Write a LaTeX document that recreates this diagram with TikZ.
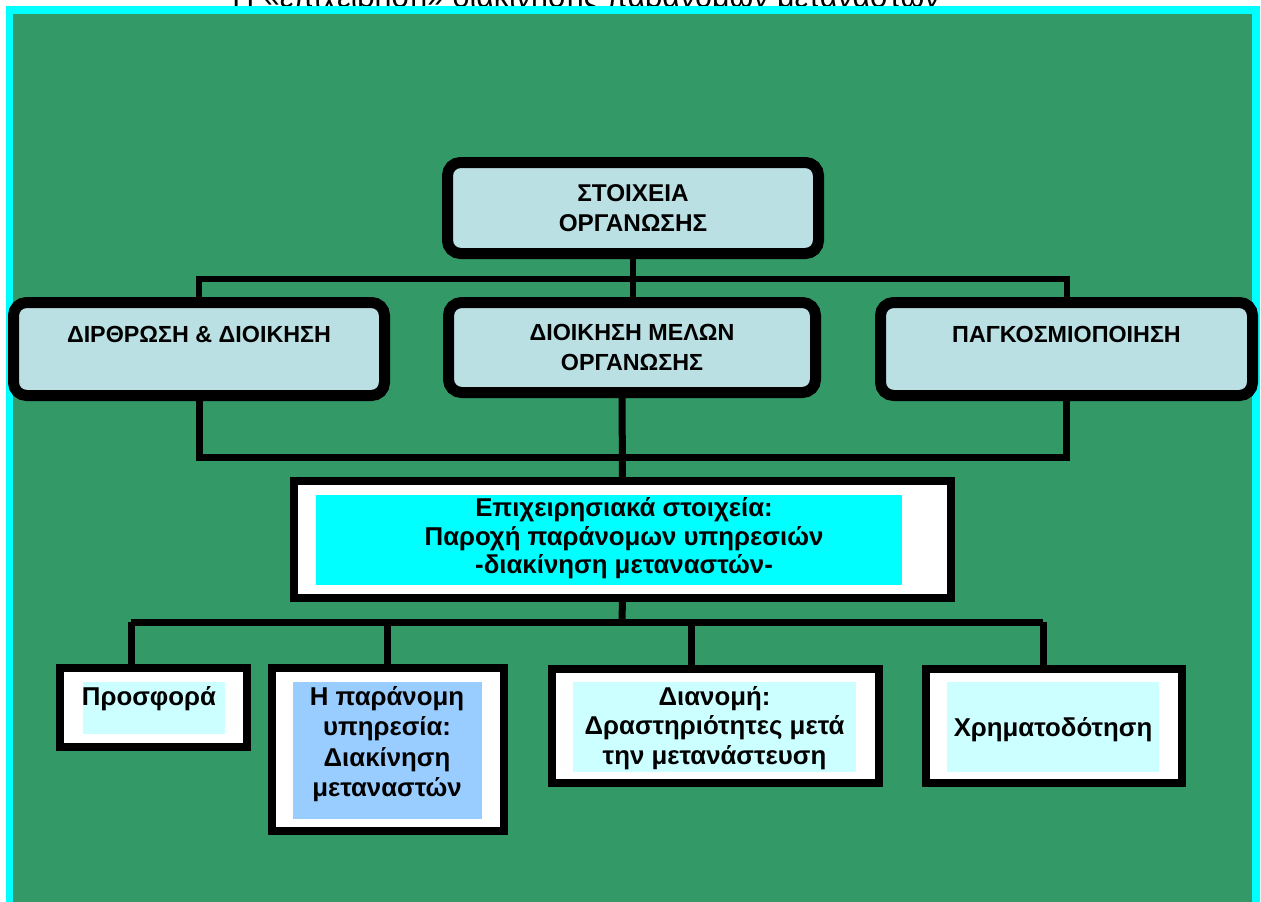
\documentclass[tikz,border=0pt]{standalone}
\usepackage{fontspec}
\setmainfont{Liberation Sans}
\usepackage{tikz}

\definecolor{bggreen}{RGB}{51,153,102}
\definecolor{framecyan}{RGB}{0,255,255}
\definecolor{orgfill}{RGB}{187,224,227}
\definecolor{palecyan}{RGB}{204,255,255}
\definecolor{skyfill}{RGB}{153,204,255}

\newcommand{\boxfont}{\fontsize{23.3}{29.5}\selectfont\bfseries}
\newcommand{\lowfont}{\fontsize{25.8}{29.8}\selectfont\bfseries}

\tikzset{
    orgbox/.style={draw=black, line width=11pt, fill=orgfill, rounded corners=13pt,
        outer sep=0pt, inner sep=0pt, align=center, font=\boxfont},
    framebox/.style={draw=black, line width=8pt, fill=white, outer sep=0pt, inner sep=0pt},
    boxtext/.style={align=center, font=\lowfont, inner sep=0pt},
    busthin/.style={line width=6pt},
    busthick/.style={line width=7pt}
}

\begin{document}
\begin{tikzpicture}[x=1pt, y=-1pt]
    \useasboundingbox (0,0) rectangle (1261,902);

    \node[anchor=base, inner sep=0pt, font=\fontsize{34}{34}\selectfont] (title) at (586,8)
        {\scalebox{0.895}[1]{Η «επιχείρηση» διακίνησης παράνομων μεταναστών}};

    \fill[framecyan] (6,6) rectangle (1260,902);
    \fill[bggreen] (13,14) rectangle (1252,902);

    \coordinate (busA) at (633,279);
    \coordinate (busB) at (622,457);
    \coordinate (busC) at (622,622);
    \coordinate (tapA) at (131,622);
    \coordinate (tapB) at (387,622);
    \coordinate (tapC) at (691,622);
    \coordinate (tapD) at (1043,622);

    % upper part
    \node[orgbox, font=\fontsize{24.3}{29.5}\selectfont\bfseries,
        minimum width=371pt, minimum height=91pt] (orgtop) at (633,208)
        {ΣΤΟΙΧΕΙΑ\\ΟΡΓΑΝΩΣΗΣ};
    \node[orgbox, minimum width=371pt, minimum height=93pt] (structure) at (199,349)
        {ΔΙΡΘΡΩΣΗ \& ΔΙΟΙΚΗΣΗ\\\mbox{}};
    \node[orgbox, minimum width=367pt, minimum height=90pt] (members) at (632,347.5)
        {ΔΙΟΙΚΗΣΗ ΜΕΛΩΝ\\ΟΡΓΑΝΩΣΗΣ};
    \node[orgbox, minimum width=372pt, minimum height=93pt] (global) at (1066.5,349)
        {ΠΑΓΚΟΣΜΙΟΠΟΙΗΣΗ\\\mbox{}};

    \draw[busthin] (orgtop.south) -- (busA);
    \draw[busthin] (structure.north) |- (busA) -| (global.north);
    \draw[busthin] (busA) -- (members.north -| busA);

    % operational box
    \node[framebox, minimum width=657pt, minimum height=117pt] (operation) at (622.5,539.5) {};
    \fill[framecyan] (316,495) rectangle (902,585);
    \node[boxtext, font=\fontsize{25.8}{28.5}\selectfont\bfseries] (operationtxt) at (624,538.5)
        {Επιχειρησιακά στοιχεία:\\Παροχή παράνομων υπηρεσιών\\-διακίνηση μεταναστών-};

    \draw[busthick] (structure.south) |- (busB) -| (global.south);
    \draw[busthick] (members.south -| busB) -- (operation.north);

    % lower boxes
    \node[framebox, minimum width=187pt, minimum height=79pt] (offer) at (153.5,707.5) {};
    \fill[palecyan] (83,682) rectangle (225,734);
    \node[boxtext] (offertxt) at (149,699) {Προσφορά};

    \node[framebox, minimum width=232pt, minimum height=163pt] (service) at (388,749.5) {};
    \fill[skyfill] (293,682) rectangle (482,819);
    \node[boxtext, font=\fontsize{25.8}{30.5}\selectfont\bfseries] (servicetxt) at (387,744)
        {Η παράνομη\\υπηρεσία:\\Διακίνηση\\μεταναστών};

    \node[framebox, minimum width=327pt, minimum height=114pt] (distrib) at (715.5,726) {};
    \fill[palecyan] (573,682) rectangle (856,772);
    \node[boxtext] (distribtxt) at (714.5,728)
        {Διανομή:\\Δραστηριότητες μετά\\την μετανάστευση};

    \node[framebox, minimum width=256pt, minimum height=114pt] (funding) at (1054,726) {};
    \fill[palecyan] (947,682) rectangle (1159,772);
    \node[boxtext] (fundingtxt) at (1053,730) {Χρηματοδότηση};

    \draw[busthick] (operation.south) -- (busC);
    \draw[busthick] (tapA) -- (tapD);
    \draw[busthick] (tapA) -- (tapA |- offer.north);
    \draw[busthick] (tapB) -- (tapB |- service.north);
    \draw[busthick] (tapC) -- (tapC |- distrib.north);
    \draw[busthick] (tapD) -- (tapD |- funding.north);
\end{tikzpicture}
\end{document}
